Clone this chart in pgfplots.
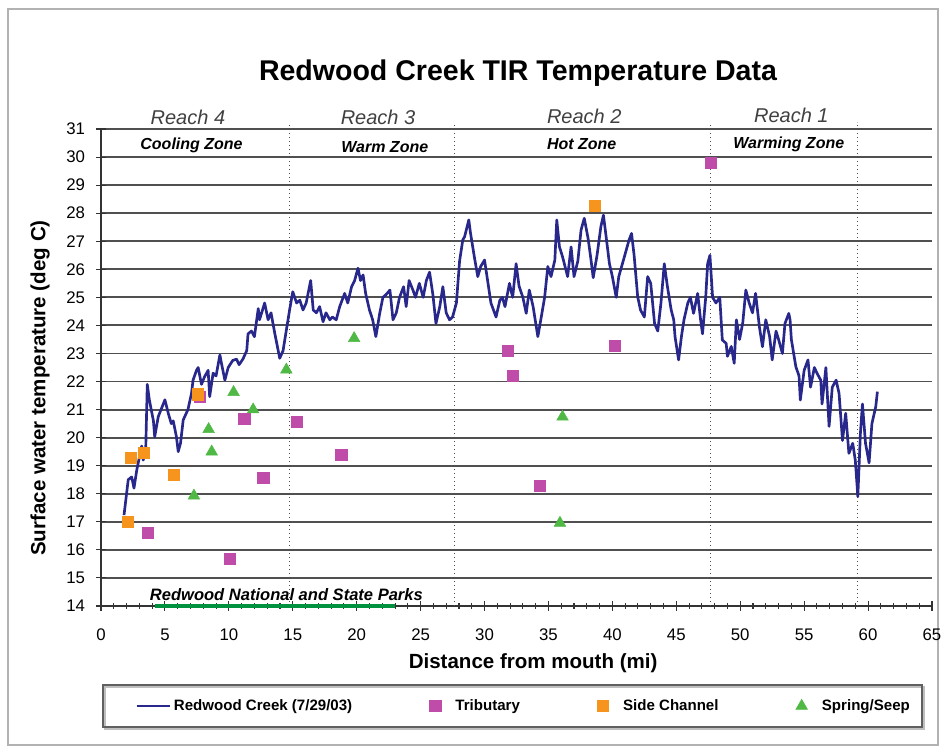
\documentclass[border=0pt]{standalone}
\usepackage{fontspec}
\setmainfont{Liberation Sans}
\usepackage{pgfplots}
\usepackage{pgfplotstable}
\pgfplotsset{compat=1.18}
\definecolor{creek}{RGB}{40,40,140}
\definecolor{trib}{RGB}{192,76,170}
\definecolor{side}{RGB}{247,148,29}
\definecolor{spring}{RGB}{80,185,70}
\definecolor{park}{RGB}{0,146,63}
\definecolor{gridc}{RGB}{80,80,80}
\pgfplotsset{
  lineleg/.style={legend image code/.code={\draw[##1] (0pt,0pt) -- (25pt,0pt);}},
  markleg/.style={legend image code/.code={\path (0pt,0pt) (17pt,0pt); \draw[##1] plot coordinates {(4pt,0pt)};}},
}

\pgfplotstableread{
x y
1.8 17.24
2.13 18.5
2.4 18.6
2.58 18.2
2.8 18.85
3.18 19.7
3.3 19.2
3.5 19.6
3.62 21.9
3.78 21.35
4.1 20.6
4.2 20.03
4.48 20.75
4.87 21.2
5.0 21.35
5.26 20.87
5.5 20.5
5.65 20.6
5.9 20.03
6.04 19.5
6.22 19.8
6.43 20.63
6.8 21.0
7.08 21.58
7.2 22.05
7.47 22.4
7.6 22.5
7.86 21.9
8.1 22.17
8.38 22.4
8.5 21.46
8.77 22.3
9.0 22.2
9.3 22.95
9.4 22.7
9.69 22.05
9.95 22.5
10.3 22.75
10.6 22.8
10.8 22.6
11.1 22.8
11.4 23.1
11.5 23.7
11.77 23.8
12.0 23.6
12.3 24.6
12.4 24.2
12.8 24.8
13.07 24.2
13.3 24.45
13.6 23.7
13.98 22.83
14.24 23.1
14.5 23.84
14.77 24.6
15.0 25.2
15.3 24.8
15.55 24.9
15.8 24.55
16.05 24.8
16.4 25.6
16.6 24.55
16.85 24.45
17.1 24.67
17.37 24.13
17.6 24.45
17.9 24.2
18.1 24.3
18.4 24.2
18.67 24.67
19.06 25.14
19.3 24.8
19.6 25.38
19.84 25.6
20.1 26.04
20.3 25.6
20.5 25.8
20.7 25.14
21.0 24.55
21.25 24.2
21.5 23.6
21.8 24.43
22.05 25.0
22.3 25.1
22.6 25.26
22.84 24.2
23.1 24.45
23.35 25.0
23.67 25.38
23.87 24.67
24.1 25.6
24.4 25.26
24.6 25.0
24.9 25.5
25.2 25.0
25.45 25.6
25.7 25.9
25.96 25.1
26.2 24.07
26.5 24.67
26.74 25.38
27.0 24.45
27.26 24.2
27.5 24.3
27.8 24.8
28.05 26.3
28.3 27.05
28.44 27.16
28.77 27.76
28.9 27.3
29.2 26.45
29.47 25.74
29.7 26.1
30.0 26.33
30.24 25.6
30.5 24.8
30.9 24.3
31.2 24.9
31.4 25.0
31.6 24.67
31.95 25.5
32.2 25.0
32.47 26.2
32.7 25.4
33.0 25.0
33.26 24.43
33.5 25.26
33.8 24.67
34.17 23.6
34.4 24.2
34.7 25.0
34.95 26.1
35.2 25.74
35.5 26.33
35.65 27.76
35.86 26.8
36.1 26.45
36.5 25.74
36.77 26.8
37.0 25.74
37.3 26.3
37.55 27.4
37.8 27.82
38.1 27.1
38.33 26.33
38.5 25.7
38.8 26.5
39.1 27.52
39.3 27.93
39.5 27.2
39.77 26.2
40.0 25.74
40.3 25.0
40.5 25.74
40.94 26.45
41.3 27.04
41.5 27.28
41.7 26.5
41.98 25.02
42.2 24.55
42.5 24.3
42.76 25.74
43.0 25.5
43.3 24.07
43.55 23.8
43.8 24.8
44.06 26.2
44.3 25.4
44.6 24.55
44.8 24.2
44.9 23.6
45.18 22.77
45.4 23.6
45.6 24.2
45.9 24.8
46.1 25.0
46.35 24.43
46.67 25.14
46.9 24.2
47.05 23.7
47.3 25.0
47.45 26.2
47.63 26.5
47.84 25.0
48.1 24.8
48.4 25.0
48.6 23.48
48.9 23.36
49.0 22.9
49.3 23.25
49.53 22.65
49.7 24.2
49.95 23.5
50.2 24.1
50.44 25.26
50.7 24.8
50.96 24.45
51.2 25.14
51.5 23.95
51.74 23.24
52.0 24.2
52.3 23.6
52.5 22.77
52.8 23.8
53.0 23.5
53.3 23.0
53.5 24.07
53.8 24.43
53.9 24.2
54.0 23.5
54.35 22.53
54.6 22.2
54.7 21.34
55.0 22.4
55.3 22.77
55.5 21.8
55.8 22.5
56.0 22.3
56.3 22.05
56.4 21.2
56.7 22.5
56.95 20.4
57.2 21.8
57.5 22.05
57.73 21.58
58.0 19.9
58.25 20.87
58.5 19.44
58.8 19.8
59.0 19.2
59.2 17.9
59.4 20.15
59.56 21.2
59.8 19.8
60.08 19.1
60.3 20.5
60.6 21.1
60.73 21.64
}\creektable

\pgfplotstableread{
x y
3.67 16.6
7.7 21.46
10.1 15.68
11.2 20.67
12.7 18.56
15.3 20.56
18.8 19.38
31.8 23.1
32.2 22.2
34.3 18.28
40.2 23.27
47.7 29.8
}\tribtable

\pgfplotstableread{
x y
2.1 17.0
2.34 19.27
3.36 19.45
5.7 18.67
7.55 21.55
38.6 28.26
}\sidetable

\pgfplotstableread{
x y
7.27 17.93
8.42 20.3
8.66 19.5
10.37 21.62
11.9 21.0
14.5 22.42
19.8 23.54
36.1 20.74
35.9 16.96
}\springtable

\begin{document}
\begin{tikzpicture}
\useasboundingbox (0,0) rectangle (709.5pt,-563.25pt);
\begin{scope}[x=0.75pt,y=-0.75pt]
\draw[gray!60, line width=0.8pt] (8,9) rectangle (938,745);
\node[anchor=base, font=\bfseries\fontsize{21.4}{24}\selectfont] at (518,80) {Redwood Creek TIR Temperature Data};
\draw[gray!50, line width=2.2pt] (105,687) rectangle (924,729);
\draw[gray!75!black, line width=1.3pt] (103,685) rectangle (922,727);
\end{scope}
\begin{axis}[
  at={(75.75pt,-454.5pt)}, anchor=south west,
  scale only axis, width=623.25pt, height=357.75pt,
  xmin=0, xmax=65, ymin=14, ymax=31,
  axis x line*=bottom, axis y line*=left,
  xtick distance=5, ytick distance=1, minor x tick num=4,
  ymajorgrids, grid style={gridc, line width=1.4pt},
  tick align=center, major tick length=7pt, minor tick length=4pt,
  tick style={black!80, line width=0.8pt},
  axis line style={black!80, line width=1pt},
  /pgf/number format/assume math mode=true,
  ticklabel style={font=\fontsize{12.6}{14}\selectfont},
  xticklabel style={yshift=-10pt},
  yticklabel style={xshift=-5pt},
  xlabel={Distance from mouth (mi)},
  ylabel={Surface water temperature (deg C)},
  label style={font=\bfseries\fontsize{15.4}{18}\selectfont},
  xlabel style={at={(axis description cs:0.52,-0.12)}, anchor=center},
  ylabel style={at={(axis description cs:-0.0734,0.457)}, anchor=center},
  clip=false,
  legend style={draw=none, fill=none, at={(axis description cs:0.0409,-0.2096)}, anchor=west,
    font=\bfseries\fontsize{11.3}{13}\selectfont, inner sep=0pt,
    nodes={inner xsep=2pt, inner ysep=1pt},
    /tikz/every even column/.append style={column sep=56pt}},
  legend columns=4,
]
\draw[dotted, gray!60!black, line width=1pt] (axis cs:14.77,14) -- (axis cs:14.77,31.2);
\draw[dotted, gray!60!black, line width=1pt] (axis cs:27.66,14) -- (axis cs:27.66,31.2);
\draw[dotted, gray!60!black, line width=1pt] (axis cs:47.7,14) -- (axis cs:47.7,31.2);
\draw[dotted, gray!60!black, line width=1pt] (axis cs:59.16,14) -- (axis cs:59.16,31.25);
\addplot[park, line width=3pt, forget plot] coordinates {(4.2,14) (23,14)};

\addplot[creek, line width=2pt, line join=round, lineleg] table[x=x,y=y] {\creektable};
\addlegendentry{Redwood Creek (7/29/03)}
\addplot[only marks, mark=square*, mark size=4.2pt, color=trib, markleg] table[x=x,y=y] {\tribtable};
\addlegendentry{Tributary}
\addplot[only marks, mark=square*, mark size=4.2pt, color=side, markleg] table[x=x,y=y] {\sidetable};
\addlegendentry{Side Channel}
\addplot[only marks, mark=triangle*, mark size=5pt, color=spring, markleg] table[x=x,y=y] {\springtable};
\addlegendentry{Spring/Seep}

\node[font=\bfseries\itshape\fontsize{12}{14}\selectfont] at (axis cs:7.08,30.43) {Cooling Zone};
\node[font=\bfseries\itshape\fontsize{12}{14}\selectfont] at (axis cs:22.2,30.36) {Warm Zone};
\node[font=\bfseries\itshape\fontsize{12}{14}\selectfont] at (axis cs:37.6,30.47) {Hot Zone};
\node[font=\bfseries\itshape\fontsize{12}{14}\selectfont] at (axis cs:53.8,30.45) {Warming Zone};
\node[font=\itshape\fontsize{15}{18}\selectfont, text=black!75] at (axis cs:6.8,31.42) {Reach 4};
\node[font=\itshape\fontsize{15}{18}\selectfont, text=black!75] at (axis cs:21.67,31.42) {Reach 3};
\node[font=\itshape\fontsize{15}{18}\selectfont, text=black!75] at (axis cs:37.8,31.44) {Reach 2};
\node[font=\itshape\fontsize{15}{18}\selectfont, text=black!75] at (axis cs:54.0,31.5) {Reach 1};
\node[font=\bfseries\itshape\fontsize{12.4}{14}\selectfont] at (axis cs:14.5,14.39) {Redwood National and State Parks};
\end{axis}
\end{tikzpicture}
\end{document}
